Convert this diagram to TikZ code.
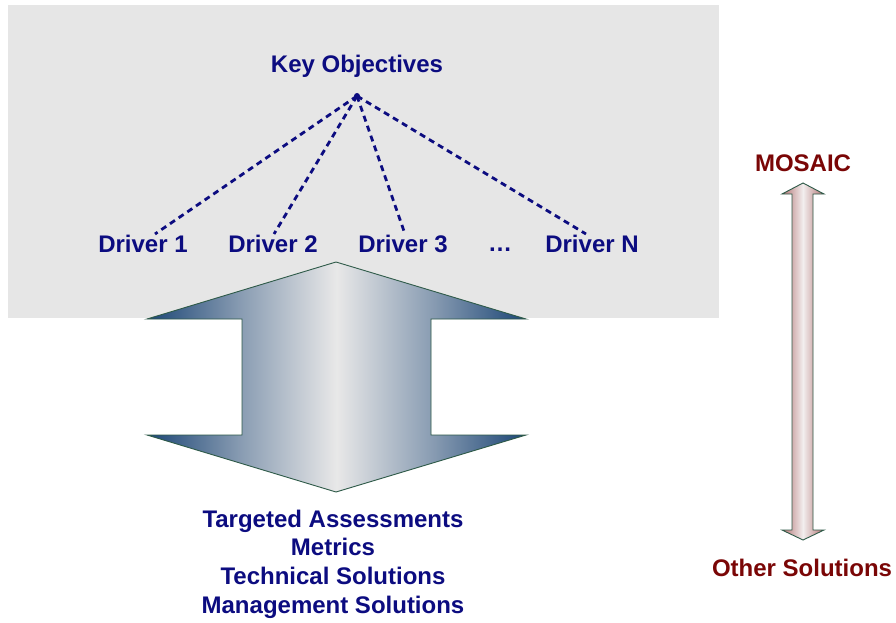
\documentclass[tikz,border=0pt]{standalone}
\usepackage{fontspec}
\setmainfont{Liberation Sans}
\definecolor{navytxt}{HTML}{0C0C80}
\definecolor{redtxt}{HTML}{7A0606}
\definecolor{panelgray}{HTML}{E6E6E6}
\definecolor{edgeblue}{HTML}{1C4676}
\definecolor{midblue}{HTML}{8A9DB3}
\definecolor{centergray}{HTML}{E8E8E8}
\definecolor{edgered}{HTML}{B27272}
\definecolor{centerred}{HTML}{F2EEEE}
\definecolor{outline}{HTML}{2E5A48}
\pgfdeclarehorizontalshading{bluebar}{100bp}{color(0bp)=(edgeblue); color(25bp)=(edgeblue); color(37.5bp)=(midblue); color(50bp)=(centergray); color(62.5bp)=(midblue); color(75bp)=(edgeblue); color(100bp)=(edgeblue)}
\pgfdeclarehorizontalshading{redbar}{100bp}{color(0bp)=(edgered); color(25bp)=(edgered); color(50bp)=(centerred); color(75bp)=(edgered); color(100bp)=(edgered)}
\begin{document}
\begin{tikzpicture}[x=1pt,y=-1pt,
  lbl/.style={font=\fontsize{24}{28.7}\selectfont\bfseries, text=navytxt, inner sep=0pt},
  redlbl/.style={lbl, text=redtxt},
  link/.style={navytxt, line width=2.8pt, dash pattern=on 6pt off 4.5pt},
  shape outline/.style={draw=outline, line width=0.9pt}]
\useasboundingbox (0,0) rectangle (896,623);
\fill[white] (0,0) rectangle (896,623);
\fill[panelgray] (8,5) rectangle (719,318);
% big double arrow
\path[shading=bluebar, shape outline]
  (147,319) -- (336,262) -- (526,319) -- (431,319) -- (431,435) -- (526,435)
  -- (336,492) -- (147,435) -- (242,435) -- (242,319) -- cycle;
% vertical double arrow
\path[shading=redbar, shape outline]
  (803,183) -- (824,194) -- (813,194) -- (813,530) -- (824,530) -- (803,540)
  -- (782,530) -- (792,530) -- (792,194) -- (782,194) -- cycle;
% labels
\node[lbl] (key) at (357,66) {Key Objectives};
\node[lbl] (d1) at (143,244) {Driver 1};
\node[lbl] (d2) at (273,244) {Driver 2};
\node[lbl] (d3) at (403,244) {Driver 3};
\node[lbl, anchor=base] (dots) at (500,251) {…};
\node[lbl] (dn) at (592,244) {Driver N};
\node[lbl, align=center] (out) at (333,564) {Targeted Assessments\\Metrics\\Technical Solutions\\Management Solutions};
\node[redlbl] (mosaic) at (803,163) {MOSAIC};
\node[redlbl] (other) at (802,568) {Other Solutions};
% connectors
\node[circle, fill=navytxt, inner sep=0pt, minimum size=6pt] (hub) at (357,96) {};
\coordinate (e1) at (155,234);
\coordinate (e2) at (274,234);
\coordinate (e3) at (405,234);
\coordinate (en) at (586,234);
\draw[link] (hub.center) -- (e1);
\draw[link] (hub.center) -- (e2);
\draw[link] (hub.center) -- (e3);
\draw[link] (hub.center) -- (en);
\end{tikzpicture}
\end{document}
